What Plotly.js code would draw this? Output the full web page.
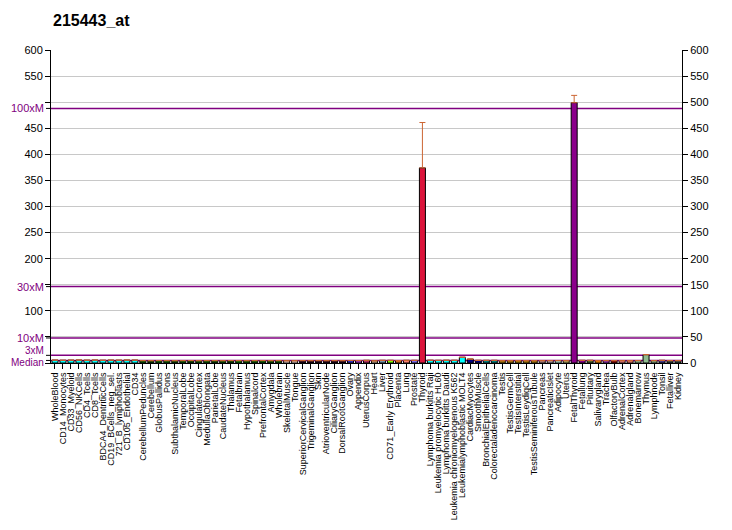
<!DOCTYPE html>
<html>
<head>
<meta charset="utf-8">
<script src="https://cdn.plot.ly/plotly-3.0.1.min.js"></script>
<style>html,body{margin:0;padding:0;background:#fff;}#chart{width:732px;height:530px;}</style>
</head>
<body>
<div id="chart"></div>
<script>
const categories = ["WholeBlood","CD14_Monocytes","CD33_Myeloid","CD56_NKCells","CD4_Tcells","CD8_Tcells","BDCA4_DentriticCells","CD19_BCells_neg_sel.","721_B_lymphoblasts","CD105_Endothelial","CD34",
"CerebellumPeduncles","Cerebellum","GlobusPallidus","Pons","SubthalamicNucleus","TemporalLobe","OccipitalLobe","CingulateCortex","MedullaOblongata","ParietalLobe","CaudateNucleus","Thalamus","Fetalbrain","Hypothalamus","Spinalcord","PrefrontalCortex","Amygdala","Wholebrain",
"SkeletalMuscle","Tongue","SuperiorCervicalGanglion","TrigeminalGanglion","Skin","AtrioventricularNode","CiliaryGanglion","DorsalRootGanglion","Ovary","Appendix","UterusCorpus","Heart","Liver","CD71_Early Erythroid","Placenta","Lung","Prostate","Thyroid",
"Lymphoma burkitts Raji","Leukemia promyelocytic HL60","Lymphoma burkitts Daudi","Leukemia chronicmyelogenous K562","Leukemialymphoblastic MOLT4",
"CardiacMyocytes","SmoothMuscle","BronchialEpithelialCells","Colorectaladenocarcinoma","Testis","TestisGermCell","TestisInterstitial","TestisLeydigCell","TestisSeminiferousTubule","Pancreas","PancreaticIslet","Adipocyte","Uterus","FetalThyroid","Fetallung","Pituitary","Salivarygland","Trachea","OlfactoryBulb","AdrenalCortex","Adrenalgland","Bonemarrow","Thymus","Lymphnode","Tonsil","Fetalliver","Kidney"];

const values = [5.5,5.2,5.4,5.6,5.3,5.5,5.2,5.4,5.3,5.5,5.4,
4.5,4.4,4.6,4.5,4.4,4.5,4.6,4.4,4.5,4.5,4.4,4.6,4.5,4.4,4.5,4.6,4.4,4.5,
4.3,4.3,4.5,4.4,4.5,4.4,4.5,4.4,4.8,4.6,5.0,4.2,5.0,5.0,4.8,5.0,5.0,374,
5.2,5.0,5.2,5.1,11,
7.5,5.0,5.0,5.0,4.5,4.5,4.6,4.5,4.5,4.5,4.5,4.5,4.5,499,5.0,5.0,4.5,4.5,4.5,4.5,4.5,4.6,16,4.5,5.0,4.5,4.5];

const errorsPlus = categories.map(function(c){ return c === "Thyroid" ? 87 : (c === "FetalThyroid" ? 14 : 0); });

const refLevels = [488, 146.5, 48, 14.7, 4.9];
const refLabels = ["100xM", "30xM", "10xM", "3xM", "Median"];
const leftTicks = [0,50,100,150,200,250,300,350,400,450,500,550,600];
const leftTickText = ["","","100","","200","250","300","350","400","450","","550","600"];
const rightTicks = [0,50,100,150,200,250,300,350,400,450,500,550,600];

const barColors = ["#00FFFF","#00FFFF","#00FFFF","#00FFFF","#00FFFF","#00FFFF","#00FFFF","#00FFFF","#00FFFF","#00FFFF","#00FFFF",
"#006400","#004d00","#006400","#006400","#004d00","#006400","#004d00","#006400","#006400","#004d00","#006400","#004d00","#008000","#006400","#006400","#006400","#006400","#006400",
"#FFE4E1","#FFE4E1","#200020","#200020","#200020","#200020","#200020","#200020","#3030C0","#9932CC","#B03060","#E8C8A8","#7090A8","#7FFF00","#D2691E","#FA8072","#7B68EE","#DC143C",
"#00FFFF","#00FFFF","#00FFFF","#00FFFF","#00FFFF",
"#000080","#000080","#008080","#008080","#B8860B","#B8860B","#B8860B","#B8860B","#B8860B","#BC8F8F","#C0B0C0","#AAEEDD","#BDB76B","#8B008B","#8B008B","#556B2F","#FF8C00","#9932CC","#8B0000","#F08080","#FA8072","#8FBC8F","#8FBC8F","#8FBC8F","#483D8B","#2F4F4F","#2F4F4F"];

const traces = [{
  type: "bar", x: categories, y: values,
  marker: {color: barColors, line: {color: "#000", width: 1}},
  error_y: {type: "data", symmetric: false, array: errorsPlus, arrayminus: categories.map(function(){return 0;}), color: "#CC6633", thickness: 1, width: 3, visible: true},
  hoverinfo: "x+y", showlegend: false
},{
  type: "scatter", mode: "markers", x: [categories[0]], y: [0], yaxis: "y2",
  marker: {opacity: 0}, hoverinfo: "skip", showlegend: false
}];

const shapes = [];
const annotations = [];
refLevels.forEach(function(v, i){
  shapes.push({type: "line", xref: "paper", yref: "y", x0: 0, x1: 1, y0: v, y1: v, line: {color: "#800080", width: 1.5}, layer: "between"});
  shapes.push({type: "line", xref: "paper", yref: "y", xsizemode: "pixel", xanchor: 0, x0: -5, x1: 0, y0: v, y1: v, line: {color: "#000", width: 1}});
  annotations.push({xref: "paper", yref: "y", x: 0, y: v, xanchor: "right", yanchor: "middle", xshift: -5, yshift: (i === 3 ? 5 : (i === 4 ? -2 : 0)), text: refLabels[i], showarrow: false, font: {family: "Liberation Sans, Arial, sans-serif", size: (i >= 3 ? 10 : 11), color: "#800080"}});
});

const layout = {
  width: 732, height: 530,
  margin: {l: 51, r: 50, t: 50, b: 167, pad: 0},
  paper_bgcolor: "#fff", plot_bgcolor: "#fff",
  title: {text: "215443_at", x: 53/732, xanchor: "left", y: 1 - 20/530, yanchor: "middle", font: {family: "Liberation Sans, Arial, sans-serif", size: 16, color: "#000", weight: "bold"}},
  font: {family: "Liberation Sans, Arial, sans-serif", size: 11, color: "#000"},
  bargap: 0.25,
  xaxis: {type: "category", range: [-0.5, categories.length - 0.5], tickmode: "array", tickvals: categories, ticktext: categories, tickangle: -90, ticks: "outside", ticklen: 5, tickcolor: "#000", tickfont: {size: 9}, showline: true, linecolor: "#000", linewidth: 1, showgrid: false, automargin: false, fixedrange: true},
  yaxis: {range: [0, 600], tickmode: "array", tickvals: leftTicks, ticktext: leftTickText, ticks: "outside", ticklen: 5, tickcolor: "#000", showline: true, linecolor: "#000", linewidth: 1, gridcolor: "#c8c8c8", gridwidth: 1, zeroline: false, automargin: false, tickfont: {size: 11}},
  yaxis2: {range: [0, 600], overlaying: "y", side: "right", tickmode: "array", tickvals: rightTicks, ticks: "outside", ticklen: 5, tickcolor: "#000", showline: true, linecolor: "#000", linewidth: 1, showgrid: false, zeroline: false, automargin: false, tickfont: {size: 11}},
  shapes: shapes,
  annotations: annotations
};

Plotly.newPlot("chart", traces, layout, {displayModeBar: false, staticPlot: true});
</script>
</body>
</html>
